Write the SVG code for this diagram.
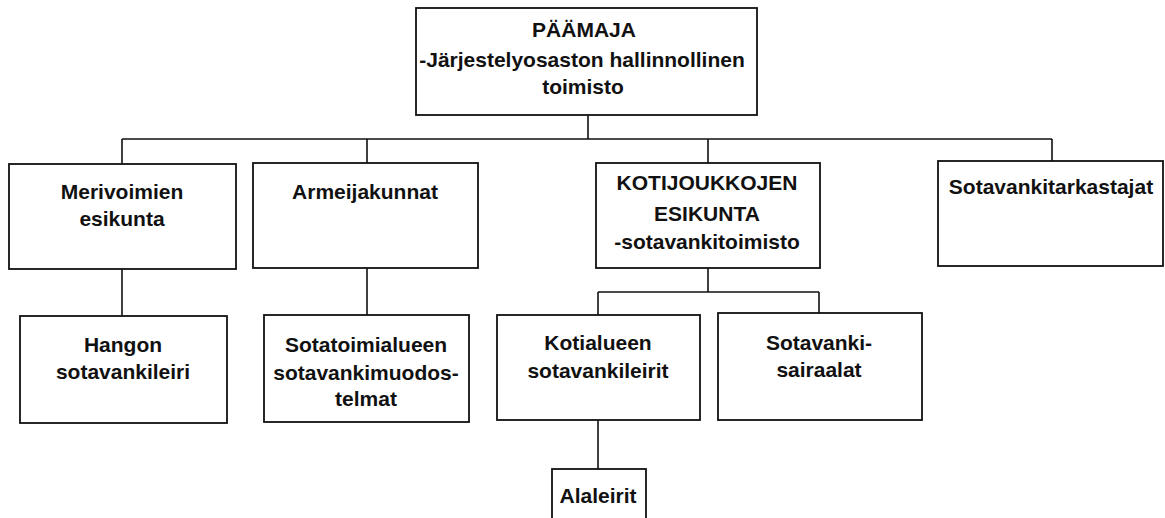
<svg xmlns="http://www.w3.org/2000/svg" width="1165" height="518" viewBox="0 0 1165 518">
<style>
.box{fill:#fff;stroke:#111;stroke-width:1.8}
.ln{fill:none;stroke:#111;stroke-width:1.6}
text{font-family:"Liberation Sans",Arial,sans-serif;font-size:21px;font-weight:bold;fill:#111;text-anchor:middle}
</style>
<rect width="1165" height="518" fill="#fff"/>
<g id="connectors">
<path class="ln" d="M588 115V139M122 139H1052M122 139V164M367 139V163M708 139V163M1052 139V161M122 269V316M367 268V315M708 268V292M598 292H819M598 292V315M819 292V313M598 420V469"/>
</g>
<g id="paamaja">
<rect class="box" x="416" y="8" width="341" height="107"/>
<text x="584" y="37">PÄÄMAJA</text>
<text x="582" y="67">-Järjestelyosaston hallinnollinen</text>
<text x="583" y="94">toimisto</text>
</g>
<g id="merivoimien">
<rect class="box" x="9" y="164" width="227" height="105"/>
<text x="122" y="199">Merivoimien</text>
<text x="122" y="226">esikunta</text>
</g>
<g id="armeijakunnat">
<rect class="box" x="253" y="163" width="225" height="105"/>
<text x="365" y="199">Armeijakunnat</text>
</g>
<g id="kotijoukkojen">
<rect class="box" x="596" y="163" width="224" height="105"/>
<text x="707" y="190">KOTIJOUKKOJEN</text>
<text x="707" y="221">ESIKUNTA</text>
<text x="707" y="249">-sotavankitoimisto</text>
</g>
<g id="tarkastajat">
<rect class="box" x="938" y="161" width="225" height="105"/>
<text x="1051" y="194">Sotavankitarkastajat</text>
</g>
<g id="hangon">
<rect class="box" x="20" y="316" width="207" height="107"/>
<text x="123" y="352">Hangon</text>
<text x="123" y="379">sotavankileiri</text>
</g>
<g id="sotatoimialueen">
<rect class="box" x="264" y="315" width="205" height="107"/>
<text x="366" y="352">Sotatoimialueen</text>
<text x="366" y="380">sotavankimuodos-</text>
<text x="366" y="406">telmat</text>
</g>
<g id="kotialueen">
<rect class="box" x="497" y="315" width="203" height="105"/>
<text x="598" y="350">Kotialueen</text>
<text x="598" y="378">sotavankileirit</text>
</g>
<g id="sairaalat">
<rect class="box" x="718" y="313" width="204" height="107"/>
<text x="819" y="350">Sotavanki-</text>
<text x="819" y="377">sairaalat</text>
</g>
<g id="alaleirit">
<rect class="box" x="552" y="469" width="94" height="60"/>
<text x="598" y="503">Alaleirit</text>
</g>
</svg>
